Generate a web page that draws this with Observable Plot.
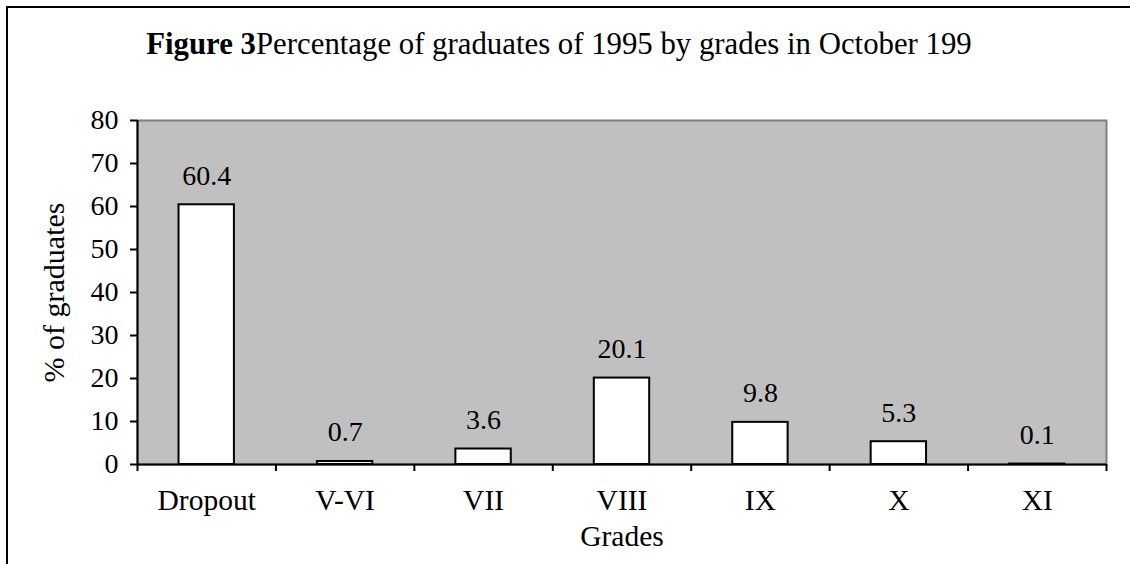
<!DOCTYPE html>
<html>
<head>
<meta charset="utf-8">
<script src="https://cdn.jsdelivr.net/npm/d3@7"></script>
<script src="https://cdn.jsdelivr.net/npm/@observablehq/plot@0.6"></script>
<style>
  html, body { margin: 0; padding: 0; background: #fff; overflow: hidden; }
  body { width: 1130px; height: 564px; position: relative; font-family: "Liberation Serif", serif; }
  #frame { position: absolute; left: 6px; top: 6px; width: 1200px; height: 700px;
           border-top: 2.5px solid #000; border-left: 2.5px solid #000; box-sizing: border-box; }
  #title { position: absolute; left: -6px; top: 27px; width: 1130px; text-align: center;
           font-size: 30.8px; line-height: 34px; color: #000; white-space: nowrap; }
  #chart { position: absolute; left: 0; top: 80px; }
</style>
</head>
<body>
<div id="frame"></div>
<div id="title"><b>Figure 3</b>Percentage of graduates of 1995 by grades in October 199</div>
<div id="chart"></div>
<script>
const categories = ["Dropout", "V-VI", "VII", "VIII", "IX", "X", "XI"];
const values = [60.4, 0.7, 3.6, 20.1, 9.8, 5.3, 0.1];
const yTicks = [0, 10, 20, 30, 40, 50, 60, 70, 80];
const xLabel = "Grades";
const yLabel = "% of graduates";

const data = categories.map((c, i) => ({cat: c, i, v: values[i], label: values[i].toFixed(1)}));
const boundaries = d3.range(categories.length + 1);
const centers = categories.map((c, i) => i + 0.5);

const font = "Liberation Serif";
const chart = Plot.plot({
  width: 1130,
  height: 484,
  marginLeft: 137,
  marginRight: 24,
  marginTop: 40,
  marginBottom: 100,
  style: {fontFamily: font, fontSize: "28px", color: "#000", background: "transparent", overflow: "visible"},
  x: {domain: [0, categories.length], axis: null},
  y: {domain: [0, 80], axis: null},
  marks: [
    Plot.frame({fill: "#C0C0C0", stroke: "#808080", strokeWidth: 2}),
    Plot.rectY(data, {x1: d => d.i + 0.3, x2: d => d.i + 0.7, y1: 0, y2: "v",
                      fill: "#fff", stroke: "#000", strokeWidth: 2}),
    Plot.text(data, {x: d => d.i + 0.5, y: "v", text: "label", dy: -29,
                     fontSize: 28, fill: "#000"}),
    Plot.ruleX([0], {stroke: "#000", strokeWidth: 2}),
    Plot.ruleY([0], {stroke: "#000", strokeWidth: 2}),
    Plot.axisY({ticks: yTicks, tickSize: 7, tickPadding: 12, strokeWidth: 2,
                fontSize: 28, label: null, tickFormat: d => String(d)}),
    Plot.axisX({ticks: boundaries, tickSize: 7, strokeWidth: 2, tickFormat: () => "", label: null}),
    Plot.axisX({ticks: centers, tickSize: 0, tickPadding: 25, fontSize: 29.5, label: null,
                tickFormat: d => categories[Math.floor(d)]}),
    Plot.text([xLabel], {frameAnchor: "bottom", lineAnchor: "middle", textAnchor: "middle",
                         dy: 72, fontSize: 29.5, fill: "#000"}),
    Plot.text([yLabel], {frameAnchor: "left", textAnchor: "middle", lineAnchor: "middle",
                         dx: -83, rotate: -90, fontSize: 30, fill: "#000"})
  ]
});
document.getElementById("chart").appendChild(chart);
</script>
</body>
</html>
